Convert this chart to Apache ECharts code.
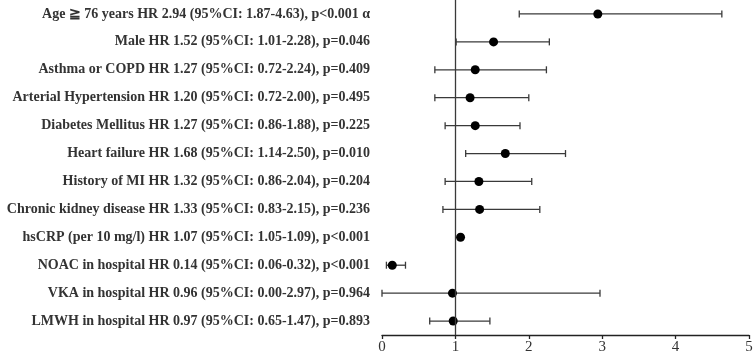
<!DOCTYPE html>
<html>
<head>
<meta charset="utf-8">
<script src="https://cdn.jsdelivr.net/npm/echarts@6/dist/echarts.min.js"></script>
<style>
  html, body { margin: 0; padding: 0; background: #fff; }
  #chart { width: 756px; height: 355px; }
</style>
</head>
<body>
<div id="chart"></div>
<script>
const labels = [
  "Age ≧ 76 years HR 2.94 (95%CI: 1.87-4.63), p<0.001 α",
  "Male HR 1.52 (95%CI: 1.01-2.28), p=0.046",
  "Asthma or COPD HR 1.27 (95%CI: 0.72-2.24), p=0.409",
  "Arterial Hypertension HR 1.20 (95%CI: 0.72-2.00), p=0.495",
  "Diabetes Mellitus HR 1.27 (95%CI: 0.86-1.88), p=0.225",
  "Heart failure HR 1.68 (95%CI: 1.14-2.50), p=0.010",
  "History of MI HR 1.32 (95%CI: 0.86-2.04), p=0.204",
  "Chronic kidney disease HR 1.33 (95%CI: 0.83-2.15), p=0.236",
  "hsCRP (per 10 mg/l) HR 1.07 (95%CI: 1.05-1.09), p<0.001",
  "NOAC in hospital HR 0.14 (95%CI: 0.06-0.32), p<0.001",
  "VKA in hospital HR 0.96 (95%CI: 0.00-2.97), p=0.964",
  "LMWH in hospital HR 0.97 (95%CI: 0.65-1.47), p=0.893",
];
const hr = [2.94, 1.52, 1.27, 1.20, 1.27, 1.68, 1.32, 1.33, 1.07, 0.14, 0.96, 0.97];
const lower = [1.87, 1.01, 0.72, 0.72, 0.86, 1.14, 0.86, 0.83, 1.05, 0.06, 0.00, 0.65];
const upper = [4.63, 2.28, 2.24, 2.00, 1.88, 2.50, 2.04, 2.15, 1.09, 0.32, 2.97, 1.47];

const serif = '"Liberation Serif", "Times New Roman", serif';

const chart = echarts.init(document.getElementById("chart"));

chart.setOption({
  animation: false,
  grid: { left: 382, right: 7, top: -1, bottom: 20 },
  xAxis: {
    type: "value",
    min: 0,
    max: 5,
    interval: 1,
    axisLine: { show: true, lineStyle: { color: "#222", width: 1.3 } },
    axisTick: { show: true, length: 4, lineStyle: { color: "#222", width: 1.3 } },
    axisLabel: { color: "#333", fontFamily: serif, fontSize: 15, margin: 5 },
    splitLine: { show: false },
  },
  yAxis: {
    type: "category",
    data: labels,
    inverse: true,
    axisLine: { show: false },
    axisTick: { show: false },
    axisLabel: {
      color: "#333",
      fontFamily: serif,
      fontWeight: "bold",
      fontSize: 14,
      margin: 12,
    },
  },
  series: [
    {
      type: "custom",
      data: labels.map((l, i) => [i, lower[i], upper[i]]),
      renderItem: (params, api) => {
        const y = api.value(0);
        const a = api.coord([api.value(1), y]);
        const b = api.coord([api.value(2), y]);
        const h = 3.5;
        const style = { stroke: "#3a3a3a", lineWidth: 1.3 };
        return {
          type: "group",
          children: [
            { type: "line", shape: { x1: a[0], y1: a[1], x2: b[0], y2: b[1] }, style },
            { type: "line", shape: { x1: a[0], y1: a[1] - h, x2: a[0], y2: a[1] + h }, style },
            { type: "line", shape: { x1: b[0], y1: b[1] - h, x2: b[0], y2: b[1] + h }, style },
          ],
        };
      },
      encode: { x: [1, 2], y: 0 },
      z: 2,
    },
    {
      type: "scatter",
      data: hr.map((v, i) => [v, i]),
      symbol: "circle",
      symbolSize: 9,
      itemStyle: { color: "#000", opacity: 1 },
      z: 3,
      markLine: {
        silent: true,
        symbol: "none",
        label: { show: false },
        lineStyle: { color: "#3a3a3a", type: "solid", width: 1.3 },
        data: [{ xAxis: 1 }],
      },
    },
  ],
});
</script>
</body>
</html>
